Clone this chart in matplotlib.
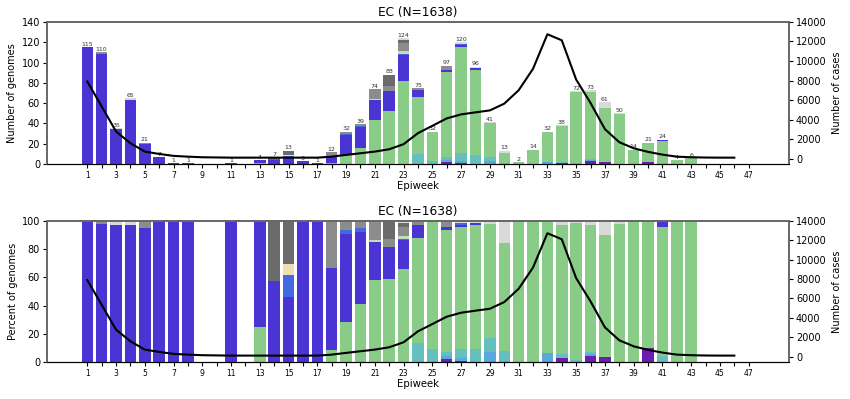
import numpy as np
import matplotlib
matplotlib.use('Agg')
import matplotlib.pyplot as plt

# =========================
# Data
# =========================
weeks = list(range(1, 44))

# genomes per lineage group, weeks 1..43 (stack order bottom -> top)
purple = [0]*25 + [2, 1] + [0]*6 + [1, 0, 3, 2, 0, 0, 2, 0, 0, 0]
lightblue = [0]*25 + [2, 2, 0, 3, 0, 0, 0, 2, 0, 0, 1, 0, 0, 0, 0, 0, 0, 0]
teal = [0]*23 + [10, 3, 3, 8, 9, 4, 1, 0, 0, 0, 1, 1, 1, 0, 0, 0, 0, 1, 0, 0]
green = [0]*12 + [1, 0, 0, 0, 0, 1, 9, 16, 43, 52, 82, 56, 29, 84, 104, 84, 33, 10,
                  2, 14, 30, 35, 70, 66, 53, 49, 14, 19, 22, 4, 6]
blue = [115, 108, 34, 63, 20, 7, 1, 1, 0, 0, 1, 0, 3, 4, 6, 3, 1, 7, 20, 20, 20, 20,
        25, 7, 0, 2, 2, 2] + [0]*12 + [1, 0, 0]
royalblue = [0]*14 + [2, 0, 0, 0, 1, 1, 0, 0, 1, 0, 0, 0, 1] + [0]*16
pale = [0]*20 + [1, 0, 3] + [0]*20
wheat = [0]*14 + [1] + [0]*28
gray = [0, 2, 0, 0, 1] + [0]*12 + [4, 2, 2, 10, 5, 8, 2, 0, 4] + [0]*17
darkgray = [0]*13 + [3, 4] + [0]*6 + [11, 3] + [0]*20
lightgray = [0, 0, 1, 2] + [0]*18 + [2, 0, 0, 0, 2, 1, 1, 2, 0, 0, 0, 1, 1, 2, 6, 1] + [0]*5

groups = [purple, lightblue, teal, green, blue, royalblue, pale, wheat, gray, darkgray, lightgray]
colors = ['#6a1fb0', '#57a8dc', '#66bfbf', '#88cc88', '#4a35d4', '#4169e1',
          '#c4dcb8', '#eedfb0', '#8c8c8c', '#6b6b6b', '#d9d9d9']

# cases per epiweek (right axis), weeks 1..46
case_weeks = list(range(1, 47))
cases = [7900, 5350, 2780, 1580, 720, 480, 280, 200, 140, 120, 100, 100, 100, 100, 100,
         100, 100, 200, 380, 550, 720, 960, 1480, 2610, 3360, 4120, 4530, 4740, 4940,
         5630, 7000, 9200, 12740, 12120, 8100, 5700, 3020, 1680, 1060, 690, 410, 200,
         140, 110, 100, 100]


def style_axes(ax, ax2):
    for a in (ax, ax2):
        for side in ('top', 'left', 'right'):
            a.spines[side].set_color('0.4')
            a.spines[side].set_linewidth(1.2)
        a.spines['bottom'].set_color('black')
    ax.set_xlim(-1.8, 49.8)
    ax.set_xticks(range(1, 48))
    ax.set_xticklabels([str(w) if w % 2 == 1 else '' for w in range(1, 48)], fontsize=5.5)
    ax.tick_params(axis='x', length=3, pad=2)
    ax.tick_params(axis='y', labelsize=7, length=3, pad=2)
    ax.set_xlabel('Epiweek', fontsize=7.3, labelpad=1)
    ax.set_title('EC (N=1638)', fontsize=8.7, pad=4)
    ax2.set_ylim(-550, 14000)
    ax2.set_yticks(range(0, 14001, 2000))
    ax2.tick_params(axis='y', labelsize=7, length=3, pad=2)
    ax2.set_ylabel('Number of cases', fontsize=7, labelpad=4)


def draw_panel(ax, percent=False):
    totals = np.array([sum(g[i] for g in groups) for i in range(len(weeks))], dtype=float)
    bottom = np.zeros(len(weeks))
    for g, c in zip(groups, colors):
        vals = np.array(g, dtype=float)
        if percent:
            vals = np.divide(vals * 100, totals, out=np.zeros_like(vals), where=totals > 0)
        ax.bar(weeks, vals, width=0.8, bottom=bottom, color=c, linewidth=0)
        bottom += vals
    if not percent:
        for w, t in zip(weeks, totals):
            if t > 0:
                ax.text(w, t + 0.3, str(int(t)), ha='center', va='bottom', fontsize=4.5, color='0.2')
    ax2 = ax.twinx()
    ax2.plot(case_weeks, cases, color='black', linewidth=1.5)
    style_axes(ax, ax2)
    return ax2


fig = plt.figure(figsize=(8.5, 3.99), dpi=100)
ax_top = fig.add_axes([0.0553, 0.589, 0.8729, 0.356])
ax_bot = fig.add_axes([0.0553, 0.093, 0.8729, 0.353])

# ----- верхний график: число геномов -----
draw_panel(ax_top)
ax_top.set_ylim(0, 140)
ax_top.set_yticks(range(0, 141, 20))
ax_top.set_ylabel('Number of genomes', fontsize=7, labelpad=3)

# ----- нижний график: доля геномов -----
draw_panel(ax_bot, percent=True)
ax_bot.set_ylim(0, 100)
ax_bot.set_yticks(range(0, 101, 20))
ax_bot.set_ylabel('Percent of genomes', fontsize=7, labelpad=3)

fig.savefig('out.png', dpi=100)
